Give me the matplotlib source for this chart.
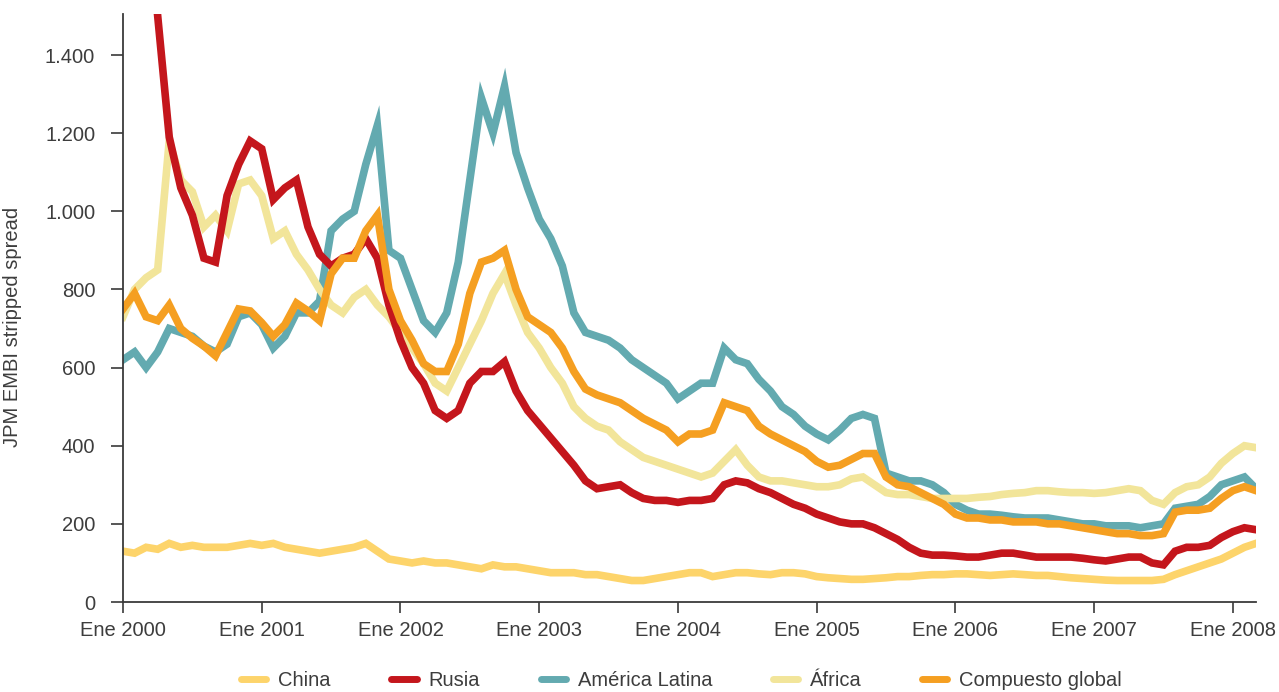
import numpy as np
import matplotlib
matplotlib.use("Agg")
import matplotlib.pyplot as plt
from matplotlib.lines import Line2D

plt.rcParams['font.family'] = ['Liberation Sans', 'DejaVu Sans']

# ---- data (monthly readings, Jan 2000 .. Mar 2008) ----
start_year = 2000
n_months = 99

china = [130, 125, 140, 135, 150, 140, 145, 140, 140, 140, 145, 150,
         145, 150, 140, 135, 130, 125, 130, 135, 140, 150, 130, 110,
         105, 100, 105, 100, 100, 95, 90, 85, 95, 90, 90, 85,
         80, 75, 75, 75, 70, 70, 65, 60, 55, 55, 60, 65,
         70, 75, 75, 65, 70, 75, 75, 72, 70, 75, 75, 72,
         65, 62, 60, 58, 58, 60, 62, 65, 65, 68, 70, 70,
         72, 72, 70, 68, 70, 72, 70, 68, 68, 65, 62, 60,
         58, 56, 55, 55, 55, 55, 58, 70, 80, 90, 100, 110,
         125, 140, 150]

rusia = [np.nan, np.nan, np.nan, 1500, 1190, 1060, 990, 880, 870, 1040, 1120, 1180,
         1160, 1030, 1060, 1080, 960, 890, 860, 880, 890, 930, 880, 760,
         670, 600, 560, 490, 470, 490, 560, 590, 590, 615, 540, 490,
         455, 420, 385, 350, 310, 290, 295, 300, 280, 265, 260, 260,
         255, 260, 260, 265, 300, 310, 305, 290, 280, 265, 250, 240,
         225, 215, 205, 200, 200, 190, 175, 160, 140, 125, 120, 120,
         118, 115, 115, 120, 125, 125, 120, 115, 115, 115, 115, 112,
         108, 105, 110, 115, 115, 100, 95, 130, 140, 140, 145, 165,
         180, 190, 185]

america_latina = [620, 640, 600, 640, 700, 690, 680, 655, 640, 660, 730, 740,
                  710, 650, 680, 740, 740, 770, 950, 980, 1000, 1120, 1220, 900,
                  880, 800, 720, 690, 740, 870, 1080, 1290, 1200, 1320, 1150, 1060,
                  980, 930, 860, 740, 690, 680, 670, 650, 620, 600, 580, 560,
                  520, 540, 560, 560, 650, 620, 610, 570, 540, 500, 480, 450,
                  430, 415, 440, 470, 480, 470, 330, 320, 310, 310, 300, 280,
                  250, 235, 225, 225, 222, 218, 215, 215, 215, 210, 205, 200,
                  200, 195, 195, 195, 190, 195, 200, 240, 245, 250, 270, 300,
                  310, 320, 290]

africa = [730, 800, 830, 850, 1180, 1080, 1050, 960, 990, 950, 1070, 1080,
          1040, 930, 950, 890, 850, 800, 760, 740, 780, 800, 760, 730,
          690, 650, 610, 560, 540, 600, 660, 720, 790, 840, 760, 690,
          650, 600, 560, 500, 470, 450, 440, 410, 390, 370, 360, 350,
          340, 330, 320, 330, 360, 390, 350, 320, 310, 310, 305, 300,
          295, 295, 300, 315, 320, 300, 280, 275, 275, 270, 265, 265,
          265, 265, 268, 270, 275, 278, 280, 285, 285, 282, 280, 280,
          278, 280, 285, 290, 285, 260, 250, 280, 295, 300, 320, 355,
          380, 400, 395]

compuesto = [750, 790, 730, 720, 760, 700, 675, 655, 630, 690, 750, 745,
             715, 680, 710, 765, 745, 720, 840, 880, 880, 950, 990, 800,
             720, 670, 610, 590, 590, 660, 790, 870, 880, 900, 800, 730,
             710, 690, 650, 590, 545, 530, 520, 510, 490, 470, 455, 440,
             410, 430, 430, 440, 510, 500, 490, 450, 430, 415, 400, 385,
             360, 345, 350, 365, 380, 380, 320, 300, 295, 280, 265, 250,
             225, 215, 215, 210, 210, 205, 205, 205, 200, 200, 195, 190,
             185, 180, 175, 175, 170, 170, 175, 230, 235, 235, 240, 265,
             285, 295, 285]

series_names = ["China", "Rusia", "América Latina", "África", "Compuesto global"]
series_colors = ["#FDD46B", "#C4161C", "#63AAB0", "#F2E59A", "#F59F21"]
series_values = [china, rusia, america_latina, africa, compuesto]
draw_order = [0, 2, 3, 1, 4]

year_ticks = list(range(2000, 2009))
year_labels = ["Ene %d" % y for y in year_ticks]
y_ticks = [0, 200, 400, 600, 800, 1000, 1200, 1400]
y_labels = ["0", "200", "400", "600", "800", "1.000", "1.200", "1.400"]

# ---- figure ----
W, H = 1279, 692
fig = plt.figure(figsize=(W / 100, H / 100), dpi=100)
ax = fig.add_axes([123 / W, 90 / H, (1256 - 123) / W, (602 - 14) / H])

dates = start_year + np.arange(n_months) / 12.0
text_color = "#3d3d3d"
axis_color = "#3a3a3a"

for i in draw_order:
    ax.plot(dates, np.array(series_values[i], dtype=float), color=series_colors[i],
            lw=5.5, solid_joinstyle="miter", zorder=2 + draw_order.index(i))

ax.set_xlim(start_year, start_year + (n_months - 1) / 12.0)
ax.set_ylim(0, 1505)

for s in ["top", "right"]:
    ax.spines[s].set_visible(False)
for s in ["left", "bottom"]:
    ax.spines[s].set_color(axis_color)
    ax.spines[s].set_linewidth(1.3)
    ax.spines[s].set_zorder(10)

ax.set_xticks(year_ticks)
ax.set_xticklabels(year_labels)
ax.set_yticks(y_ticks)
ax.set_yticklabels(y_labels)
ax.tick_params(axis="x", direction="out", length=8, width=1.2, pad=6,
               labelsize=14.5, colors=axis_color, labelcolor=text_color)
ax.tick_params(axis="y", direction="out", length=9, width=1.2, pad=11,
               labelsize=14.5, colors=axis_color, labelcolor=text_color)

ax.set_ylabel("JPM EMBI stripped spread", fontsize=14.5, color=text_color)
ax.yaxis.set_label_coords(-0.089, 0.468)

handles = [Line2D([0], [0], color=c, lw=5, solid_capstyle="round") for c in series_colors]
fig.legend(handles, series_names, loc="center", bbox_to_anchor=(0.533, 0.016),
           ncol=5, frameon=False, fontsize=14.5, handlelength=1.25,
           handletextpad=0.6, columnspacing=3.0, labelcolor=text_color)

fig.savefig("out.png", dpi=100)
